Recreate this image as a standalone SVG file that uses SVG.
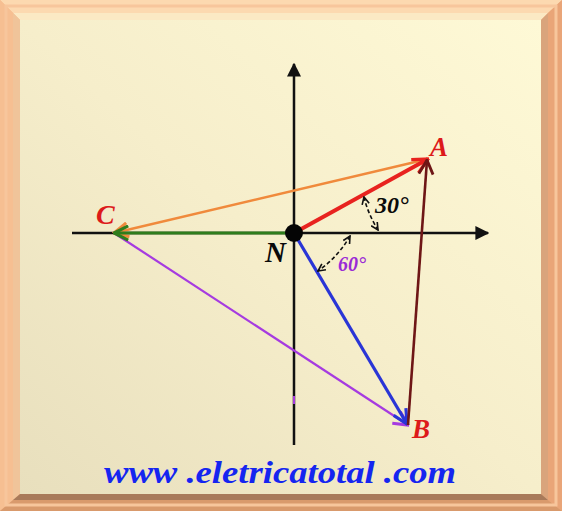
<svg xmlns="http://www.w3.org/2000/svg" width="562" height="511" viewBox="0 0 562 511">
<defs>
<linearGradient id="panel" x1="1" y1="0" x2="0" y2="1">
<stop offset="0" stop-color="#fef9d6"/>
<stop offset="0.5" stop-color="#f6eecb"/>
<stop offset="1" stop-color="#e8dfbd"/>
</linearGradient>
<marker id="mRed" viewBox="0 0 12 12" refX="11" refY="6" markerWidth="18" markerHeight="18" markerUnits="userSpaceOnUse" orient="auto"><path d="M1,1 L11,6 L1,11" fill="none" stroke="#e8231f" stroke-width="2.2"/></marker>
<marker id="mMaroon" viewBox="0 0 12 12" refX="11" refY="6" markerWidth="17" markerHeight="17" markerUnits="userSpaceOnUse" orient="auto"><path d="M1,1 L11,6 L1,11" fill="none" stroke="#6e1616" stroke-width="2"/></marker>
<marker id="mOrange" viewBox="0 0 12 12" refX="11" refY="6" markerWidth="17" markerHeight="17" markerUnits="userSpaceOnUse" orient="auto"><path d="M1,1 L11,6 L1,11" fill="none" stroke="#f08a3c" stroke-width="2.2"/></marker>
<marker id="mGreen" viewBox="0 0 12 12" refX="11" refY="6" markerWidth="17" markerHeight="17" markerUnits="userSpaceOnUse" orient="auto"><path d="M1,1 L11,6 L1,11" fill="none" stroke="#2f7d1c" stroke-width="2.2"/></marker>
<marker id="mBlue" viewBox="0 0 12 12" refX="11" refY="6" markerWidth="17" markerHeight="17" markerUnits="userSpaceOnUse" orient="auto"><path d="M1,1 L11,6 L1,11" fill="none" stroke="#2a35d6" stroke-width="2.2"/></marker>
<marker id="mPurple" viewBox="0 0 12 12" refX="11" refY="6" markerWidth="17" markerHeight="17" markerUnits="userSpaceOnUse" orient="auto"><path d="M1,1 L11,6 L1,11" fill="none" stroke="#a63be0" stroke-width="2.2"/></marker>
<marker id="mAxis" viewBox="0 0 10 10" refX="9" refY="5" markerWidth="14" markerHeight="14" markerUnits="userSpaceOnUse" orient="auto"><path d="M0,0 L10,5 L0,10 Z" fill="#111"/></marker>
<marker id="mDash" viewBox="0 0 10 10" refX="9" refY="5" markerWidth="9" markerHeight="9" markerUnits="userSpaceOnUse" orient="auto-start-reverse"><path d="M1,1 L9,5 L1,9" fill="none" stroke="#111" stroke-width="1.8"/></marker>
</defs>
<style>
.lbl{font-family:"Liberation Serif",serif;font-weight:bold;font-style:italic;}
.axis{stroke:#111;stroke-width:2.5;fill:none;}
.dash{stroke:#111;stroke-width:1.6;stroke-dasharray:4 2.5;fill:none;}
</style>
<g id="frame">
<rect x="0" y="0" width="562" height="511" fill="#f4b587"/>
<polygon points="0,0 562,0 548,13 13,13" fill="#fcd9b0"/>
<polygon points="0,0 13,13 13,500 0,511" fill="#f6bf92"/>
<polygon points="562,0 562,511 548,500 548,13" fill="#e9a578"/>
<polygon points="0,511 562,511 548,500 13,500" fill="#d99a6c"/>
<rect x="6" y="6" width="550" height="499" fill="none" stroke="#f7c69c" stroke-width="3"/>
<polygon points="13,13 548,13 541,20 20,20" fill="#fbe9c4"/>
<polygon points="13,13 20,20 20,494 13,500" fill="#f0c49a"/>
<polygon points="548,13 548,500 541,494 541,20" fill="#d9a47c"/>
<polygon points="13,500 548,500 541,494 20,494" fill="#a87a5a"/>
<rect x="20" y="20" width="521" height="474" fill="url(#panel)"/>
</g>
<g id="axes">
<line class="axis" x1="72" y1="233" x2="488" y2="233" marker-end="url(#mAxis)"/>
<line class="axis" x1="294" y1="445" x2="294" y2="64" marker-end="url(#mAxis)"/>
<line x1="294" y1="396" x2="294" y2="404" stroke="#a63be0" stroke-width="2"/>
</g>
<g id="connectors">
<line x1="428" y1="159" x2="114" y2="233" stroke="#f08a3c" stroke-width="2.4" marker-end="url(#mOrange)"/>
<line x1="114" y1="233" x2="408" y2="425" stroke="#a63be0" stroke-width="2.2" marker-end="url(#mPurple)"/>
<line x1="294" y1="233" x2="114" y2="233" stroke="#2f7d1c" stroke-width="3.2" marker-end="url(#mGreen)"/>
<line x1="294" y1="233" x2="428" y2="159" stroke="#e8231f" stroke-width="4" marker-end="url(#mRed)"/>
<line x1="294" y1="233" x2="407" y2="424" stroke="#2a35d6" stroke-width="3.2" marker-end="url(#mBlue)"/>
<line x1="408" y1="425" x2="427" y2="160" stroke="#6e1616" stroke-width="2.6" marker-end="url(#mMaroon)"/>
<path class="dash" d="M364,197 Q368,214 378,230" marker-start="url(#mDash)" marker-end="url(#mDash)"/>
<path class="dash" d="M350,236 Q338,257 318,271" marker-start="url(#mDash)" marker-end="url(#mDash)"/>
</g>
<g id="N">
<circle cx="294" cy="233" r="9" fill="#050505"/>
<text class="lbl" x="265" y="262" font-size="29" fill="#0a0a0a">N</text>
</g>
<g id="A"><text class="lbl" x="430" y="156" font-size="27" fill="#dd1a1a">A</text></g>
<g id="B"><text class="lbl" x="412" y="438" font-size="27" fill="#dd1a1a">B</text></g>
<g id="C"><text class="lbl" x="96" y="224" font-size="28" fill="#dd1a1a">C</text></g>
<g id="angle30"><text class="lbl" x="375" y="213" font-size="24" fill="#0a0a0a">30°</text></g>
<g id="angle60"><text class="lbl" x="338" y="271" font-size="20" fill="#9a2ad6">60°</text></g>
<g id="website"><text class="lbl" x="104" y="483" font-size="32" fill="#1525f0" textLength="352" lengthAdjust="spacingAndGlyphs">www .eletricatotal .com</text></g>
</svg>
